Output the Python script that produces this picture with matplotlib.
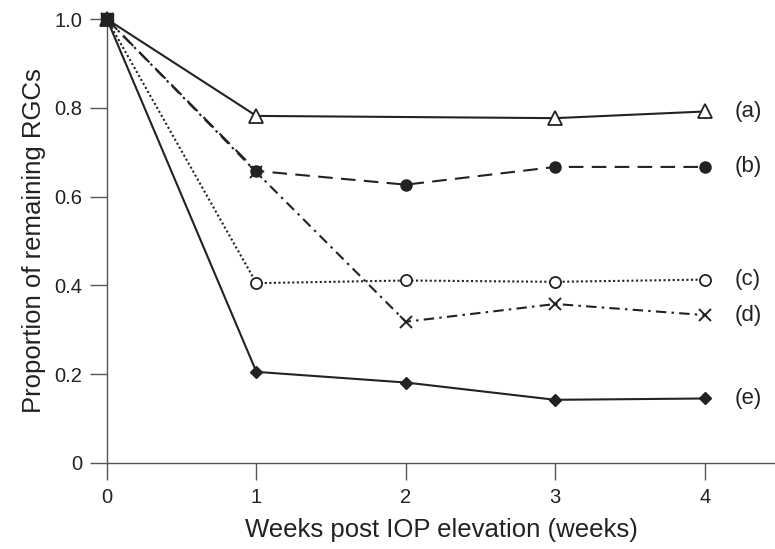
import matplotlib
matplotlib.use("Agg")
import matplotlib.pyplot as plt

plt.rcParams['font.family'] = ['Liberation Sans', 'DejaVu Sans']

# ============================================================
# Data
# ============================================================
weeks = [0, 1, 2, 3, 4]
weeks_a = [0, 1, 3, 4]
rgc_a = [1.0, 0.782, 0.777, 0.792]
rgc_b = [1.0, 0.658, 0.627, 0.667, 0.667]
rgc_c = [1.0, 0.405, 0.411, 0.408, 0.413]
rgc_d = [1.0, 0.655, 0.318, 0.358, 0.333]
rgc_e = [1.0, 0.205, 0.181, 0.142, 0.145]
labels = ["(a)", "(b)", "(c)", "(d)", "(e)"]

ink = "#222222"

fig = plt.figure(figsize=(7.75, 5.49), dpi=100)
ax = fig.add_axes([0.138, 0.157, 0.862, 0.808])

ax.plot(weeks, rgc_e, color=ink, lw=1.5, ls="-", marker="D", ms=6,
        mfc=ink, mec=ink, clip_on=False, zorder=3)
ax.plot(weeks, rgc_d, color=ink, lw=1.5, ls=(0, (5, 2.5, 1.2, 2.5)), marker="x", ms=8,
        mew=1.4, mec=ink, clip_on=False, zorder=3)
ax.plot(weeks, rgc_c, color=ink, lw=1.5, ls=(0, (1.0, 1.2)), marker="o", ms=8,
        mfc="white", mec=ink, mew=1.3, clip_on=False, zorder=3)
ax.plot(weeks, rgc_b, color=ink, lw=1.5, ls=(0, (7, 4)), marker="o", ms=8,
        mfc=ink, mec=ink, clip_on=False, zorder=4)
ax.plot(weeks_a, rgc_a, color=ink, lw=1.5, ls="-", marker="^", ms=10,
        mfc="white", mec=ink, mew=1.3, clip_on=False, zorder=5)
# origin point drawn as filled blob like the reference
ax.plot([0], [1.0], marker="s", ms=8, color=ink, clip_on=False, zorder=6)

# series labels at the right
ends = [rgc_a[-1], rgc_b[-1], rgc_c[-1], rgc_d[-1], rgc_e[-1]]
for lab, y in zip(labels, ends):
    ax.text(4.2, y, lab, fontsize=16, va="center", ha="left", color=ink)

ax.set_xlim(0, 4.47)
ax.set_ylim(0, 1.0)
ax.set_xticks([0, 1, 2, 3, 4])
ax.set_yticks([0, 0.2, 0.4, 0.6, 0.8, 1.0])
ax.set_yticklabels(["0", "0.2", "0.4", "0.6", "0.8", "1.0"])
ax.tick_params(direction="out", length=12, width=1.0, color="#555555",
               labelsize=14.5, labelcolor=ink, pad=6)
for side in ["top", "right"]:
    ax.spines[side].set_visible(False)
for side in ["left", "bottom"]:
    ax.spines[side].set_color("#555555")
    ax.spines[side].set_linewidth(1.0)

ax.set_xlabel("Weeks post IOP elevation (weeks)", fontsize=18.5, color=ink, labelpad=8)
ax.set_ylabel("Proportion of remaining RGCs", fontsize=18.5, color=ink, labelpad=6)

fig.savefig("out.png", dpi=100)
